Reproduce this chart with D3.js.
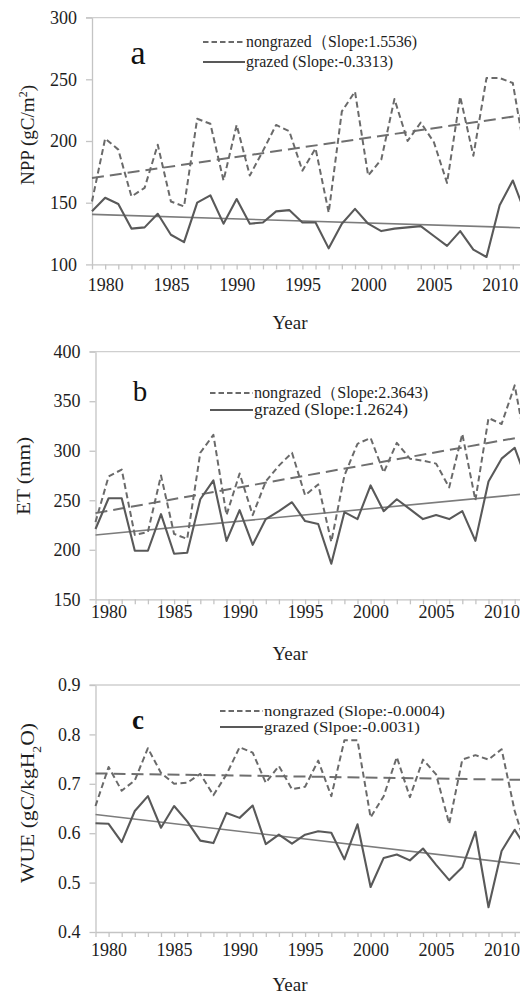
<!DOCTYPE html>
<html><head><meta charset="utf-8">
<script src="https://cdn.jsdelivr.net/npm/d3@7"></script>
<style>body{margin:0;background:#fff}svg{display:block}svg text{font-family:"Liberation Serif","Times New Roman",serif}</style>
</head><body>
<script>
// ---------- DATA ----------
const years = [1979,1980,1981,1982,1983,1984,1985,1986,1987,1988,1989,1990,1991,1992,1993,1994,1995,
               1996,1997,1998,1999,2000,2001,2002,2003,2004,2005,2006,2007,2008,2009,2010,2011,2012];
const xTickYears = [1979,1980,1981,1982,1983,1984,1985,1986,1987,1988,1989,1990,1991,1992,1993,1994,1995,
               1996,1997,1998,1999,2000,2001,2002,2003,2004,2005,2006,2007,2008,2009,2010,2011,2012,2013];
const xTickLabels = [1980,1985,1990,1995,2000,2005,2010];

const nppNongrazed = [151,202,193,155,162,197,151,147,218,214,168,213,172,192,213,208,176,
                      194,142,224,240,172,185,234,200,215,199,166,236,188,251,251,247,185];
const nppGrazed    = [143,154,149,129,130,141,124,118,150,156,133,153,133,134,143,144,134,
                      134,113,133,145,133,127,129,130,131,123,115,127,112,106,148,168,140];
const etNongrazed  = [228,274,281,215,218,275,216,211,298,316,235,277,235,269,285,298,255,
                      266,208,275,307,313,278,308,292,290,287,263,317,250,333,327,366,295];
const etGrazed     = [221,252,252,199,199,236,196,197,251,270,209,240,205,231,239,248,229,
                      226,186,238,231,265,239,251,241,231,235,231,239,209,269,292,303,267];
const wueNongrazed = [0.655,0.734,0.686,0.707,0.772,0.722,0.700,0.702,0.720,0.677,0.719,0.774,0.763,0.702,0.736,0.689,0.694,
                      0.747,0.675,0.788,0.788,0.632,0.675,0.754,0.673,0.749,0.719,0.619,0.749,0.758,0.749,0.770,0.645,0.560];
const wueGrazed    = [0.620,0.619,0.582,0.645,0.675,0.611,0.655,0.624,0.585,0.580,0.641,0.631,0.656,0.578,0.597,0.579,0.597,
                      0.604,0.601,0.547,0.618,0.491,0.550,0.557,0.545,0.569,0.536,0.505,0.531,0.603,0.450,0.564,0.607,0.565];

// trend lines: [value at first year, slope per year]
const nppTrendNongrazed = [170, 1.5536];
const nppTrendGrazed    = [140.5, -0.3313];
const etTrendNongrazed  = [237, 2.3643];
const etTrendGrazed     = [215, 1.2624];
const wueTrendNongrazed = [0.721, -0.0004];
const wueTrendGrazed    = [0.638, -0.0031];

const nppTicks = [100,150,200,250,300];
const etTicks  = [150,200,250,300,350,400];
const wueTicks = [0.4,0.5,0.6,0.7,0.8,0.9];

const nppLegend = ["nongrazed\uFF08Slope:1.5536)", "grazed (Slope:-0.3313)"];
const etLegend  = ["nongrazed\uFF08Slope:2.3643)", "grazed (Slope:1.2624)"];
const wueLegend = ["nongrazed (Slope:-0.0004)", "grazed (Slpoe:-0.0031)"];

// ---------- DRAW ----------
const W = 520, H = 995;
const FONT = '"Liberation Serif","Times New Roman",serif';
const TXT = '#1e1e1e';
const svg = d3.select('body').append('svg').attr('width', W).attr('height', H)
  .attr('font-family', FONT);

const panels = [
  { letter:'a', letterSize:34, letterBold:false, letterPos:[138,52],
    nong:nppNongrazed, graz:nppGrazed, tN:nppTrendNongrazed, tG:nppTrendGrazed,
    ticks:nppTicks, fmt:d3.format('d'), legend:nppLegend,
    x0:92, step:13.15, yTop:17.6, yBot:264.4,
    labY:285, yearY:322, title:'npp', titlePos:[27,135], titleLen:100,
    leg:{x0:203, x1:245, y1:42, y2:62, len1:171, len2:147, size:16.5} },
  { letter:'b', letterSize:29, letterBold:false, letterPos:[140,391],
    nong:etNongrazed, graz:etGrazed, tN:etTrendNongrazed, tG:etTrendGrazed,
    ticks:etTicks, fmt:d3.format('d'), legend:etLegend,
    x0:95.5, step:13.1, yTop:351.7, yBot:599.3,
    labY:612, yearY:653, title:'et', titlePos:[23,476], titleLen:78,
    leg:{x0:210, x1:253, y1:393, y2:410, len1:174, len2:154, size:16} },
  { letter:'c', letterSize:27, letterBold:true, letterPos:[138,720],
    nong:wueNongrazed, graz:wueGrazed, tN:wueTrendNongrazed, tG:wueTrendGrazed,
    ticks:wueTicks, fmt:d3.format('.1f'), legend:wueLegend,
    x0:95.5, step:13.1, yTop:685, yBot:932,
    labY:950, yearY:984, title:'wue', titlePos:[27,803], titleLen:160,
    leg:{x0:220, x1:263, y1:711, y2:727, len1:181, len2:156, size:14.5} }
];

panels.forEach(p => {
  const x = d3.scaleLinear().domain([1979, 2013]).range([p.x0, p.x0 + 34 * p.step]);
  const y = d3.scaleLinear().domain([p.ticks[0], p.ticks[p.ticks.length-1]]).range([p.yBot, p.yTop]);
  const g = svg.append('g');

  // top line
  g.append('line').attr('x1', p.x0 - 6).attr('x2', W).attr('y1', p.yTop).attr('y2', p.yTop)
    .attr('stroke', '#cfcfcf').attr('stroke-width', 1.3);

  // y axis
  const ya = g.append('g').attr('transform', `translate(${p.x0},0)`)
    .call(d3.axisLeft(y).tickValues(p.ticks).tickFormat(p.fmt).tickSize(6).tickSizeOuter(0).tickPadding(9))
    .attr('font-family', FONT).attr('font-size', 18);
  ya.select('.domain').attr('stroke', '#c4c4c4').attr('stroke-width', 1.3);
  ya.selectAll('.tick line').attr('stroke', '#c4c4c4').attr('stroke-width', 1.3);
  ya.selectAll('.tick text').attr('fill', TXT);

  // x axis
  const xa = g.append('g').attr('transform', `translate(0,${p.yBot})`)
    .call(d3.axisBottom(x).tickValues(xTickYears)
      .tickFormat(d => xTickLabels.includes(d) ? String(d) : '')
      .tickSize(5).tickSizeOuter(0))
    .attr('font-family', FONT).attr('font-size', 18);
  xa.select('.domain').attr('stroke', '#c4c4c4').attr('stroke-width', 1.3);
  xa.selectAll('.tick line').attr('stroke', '#c4c4c4').attr('stroke-width', 1.3);
  xa.selectAll('.tick text').attr('fill', TXT)
    .attr('y', p.labY - p.yBot).attr('dy', '0.35em');

  // trend lines
  const tline = t => [[1979, t[0]], [2013, t[0] + t[1] * 34]];
  const lg = d3.line().x(d => x(d[0])).y(d => y(d[1]));
  g.append('path').attr('d', lg(tline(p.tN))).attr('fill', 'none')
    .attr('stroke', '#6f6f6f').attr('stroke-width', 2).attr('stroke-dasharray', '12,6');
  g.append('path').attr('d', lg(tline(p.tG))).attr('fill', 'none')
    .attr('stroke', '#7c7c7c').attr('stroke-width', 1.6);

  // data lines
  const dl = d3.line().x((d, i) => x(years[i])).y(d => y(d));
  g.append('path').attr('d', dl(p.nong)).attr('fill', 'none')
    .attr('stroke', '#6a6a6a').attr('stroke-width', 2).attr('stroke-dasharray', '6,3.5')
    .attr('stroke-linejoin', 'round');
  g.append('path').attr('d', dl(p.graz)).attr('fill', 'none')
    .attr('stroke', '#595959').attr('stroke-width', 2.1).attr('stroke-linejoin', 'round');

  // legend
  const L = p.leg;
  g.append('line').attr('x1', L.x0).attr('x2', L.x1).attr('y1', L.y1).attr('y2', L.y1)
    .attr('stroke', '#6a6a6a').attr('stroke-width', 1.8).attr('stroke-dasharray', '5.5,3');
  g.append('line').attr('x1', L.x0).attr('x2', L.x1).attr('y1', L.y2).attr('y2', L.y2)
    .attr('stroke', '#595959').attr('stroke-width', 2);
  [[p.legend[0], L.y1, L.len1], [p.legend[1], L.y2, L.len2]].forEach(([t, yy, len]) => {
    g.append('text').attr('x', L.x1 + 1).attr('y', yy).attr('dy', '0.33em')
      .attr('font-size', L.size).attr('fill', TXT)
      .attr('textLength', len).attr('lengthAdjust', 'spacingAndGlyphs').text(t);
  });

  // panel letter
  g.append('text').attr('x', p.letterPos[0]).attr('y', p.letterPos[1]).attr('dy', '0.35em')
    .attr('text-anchor', 'middle').attr('font-size', p.letterSize)
    .attr('font-weight', p.letterBold ? 'bold' : 'normal').attr('fill', '#111').text(p.letter);

  // x title
  g.append('text').attr('x', 290).attr('y', p.yearY).attr('dy', '0.35em')
    .attr('text-anchor', 'middle').attr('font-size', 19).attr('fill', TXT).text('Year');

  // y title
  const yt = g.append('text')
    .attr('transform', `translate(${p.titlePos[0]},${p.titlePos[1]}) rotate(-90)`)
    .attr('text-anchor', 'middle').attr('dy', '0.35em').attr('font-size', 19).attr('fill', TXT)
    .attr('textLength', p.titleLen).attr('lengthAdjust', 'spacingAndGlyphs');
  if (p.title === 'npp') {
    yt.append('tspan').text('NPP (gC/m');
    yt.append('tspan').attr('font-size', 12).attr('baseline-shift', 'super').text('2');
    yt.append('tspan').text(')');
  } else if (p.title === 'et') {
    yt.text('ET (mm)');
  } else {
    yt.append('tspan').text('WUE (gC/kgH');
    yt.append('tspan').attr('font-size', 12).attr('baseline-shift', 'sub').text('2');
    yt.append('tspan').text('O)');
  }
});
</script>
</body></html>
